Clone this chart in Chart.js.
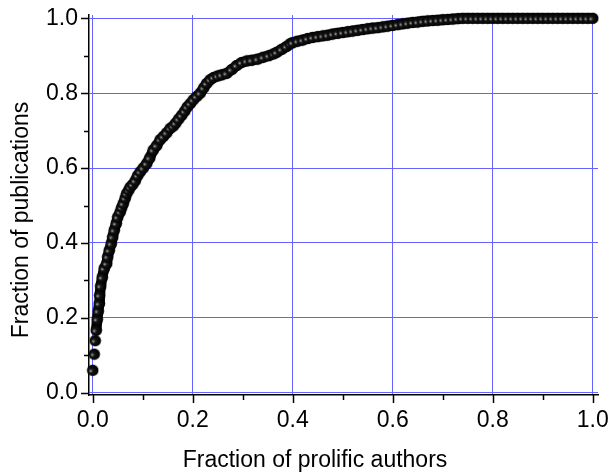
<!DOCTYPE html>
<html>
<head>
<meta charset="utf-8">
<script src="https://cdn.jsdelivr.net/npm/chart.js@4.4.0/dist/chart.umd.min.js"></script>
<style>
    body { margin: 0; background: #fff; }
    #wrap { width: 611px; height: 472px; }
</style>
</head>
<body>
<div id="wrap"><canvas id="cdfChart" width="611" height="472"></canvas></div>
<script>
// fraction of prolific authors (x) and cumulative fraction of publications (y)
const authorFrac = [
    0.000, 0.003, 0.005, 0.007, 0.009, 0.011, 0.013, 0.014, 0.016, 0.019,
    0.023, 0.028, 0.030, 0.033, 0.037, 0.040, 0.043, 0.047, 0.050, 0.055,
    0.058, 0.061, 0.065, 0.068, 0.072, 0.075, 0.080, 0.085, 0.090, 0.095,
    0.101, 0.108, 0.114, 0.121, 0.128, 0.135, 0.141, 0.148, 0.155, 0.161,
    0.166, 0.172, 0.178, 0.184, 0.189, 0.195, 0.201, 0.208, 0.215, 0.222,
    0.228, 0.235, 0.242, 0.250, 0.258, 0.268, 0.278, 0.288, 0.298, 0.308,
    0.318, 0.330, 0.341, 0.352, 0.362, 0.368, 0.378, 0.388, 0.395,
    0.40, 0.41, 0.42, 0.43, 0.44, 0.45, 0.46, 0.47, 0.48, 0.49,
    0.50, 0.51, 0.52, 0.53, 0.54, 0.55, 0.56, 0.57, 0.58, 0.59,
    0.60, 0.61, 0.62, 0.63, 0.64, 0.65, 0.66, 0.67, 0.68, 0.69,
    0.70, 0.71, 0.72, 0.73, 0.74, 0.75, 0.76, 0.77, 0.78, 0.79,
    0.80, 0.81, 0.82, 0.83, 0.84, 0.85, 0.86, 0.87, 0.88, 0.89,
    0.90, 0.91, 0.92, 0.93, 0.94, 0.95, 0.96, 0.97, 0.98, 0.99, 1.00
];
const pubFrac = [
    0.060, 0.103, 0.139, 0.167, 0.196, 0.218, 0.238, 0.260, 0.285, 0.308,
    0.332, 0.345, 0.363, 0.380, 0.398, 0.416, 0.434, 0.452, 0.469, 0.483,
    0.495, 0.505, 0.520, 0.532, 0.541, 0.549, 0.556, 0.566, 0.580, 0.590,
    0.600, 0.612, 0.627, 0.648, 0.660, 0.676, 0.684, 0.694, 0.706, 0.712,
    0.720, 0.731, 0.741, 0.752, 0.763, 0.772, 0.782, 0.791, 0.800, 0.814,
    0.826, 0.836, 0.842, 0.846, 0.849, 0.853, 0.863, 0.874, 0.882, 0.886,
    0.888, 0.891, 0.896, 0.900, 0.905, 0.909, 0.917, 0.925, 0.932,
    0.935, 0.939, 0.942, 0.946, 0.949, 0.951, 0.953, 0.955, 0.958, 0.960,
    0.962, 0.964, 0.966, 0.968, 0.970, 0.972, 0.974, 0.975, 0.977, 0.979,
    0.981, 0.983, 0.985, 0.987, 0.989, 0.990, 0.992, 0.993, 0.994, 0.995,
    0.996, 0.997, 0.998, 0.999, 1.000, 1.000, 1.000, 1.000, 1.000, 1.000,
    1.000, 1.000, 1.000, 1.000, 1.000, 1.000, 1.000, 1.000, 1.000, 1.000,
    1.000, 1.000, 1.000, 1.000, 1.000, 1.000, 1.000, 1.000, 1.000, 1.000, 1.000
];
const majorTicks = [0.0, 0.2, 0.4, 0.6, 0.8, 1.0];
const minorTicks = [0.1, 0.3, 0.5, 0.7, 0.9];

const xTitle = 'Fraction of prolific authors';
const yTitle = 'Fraction of publications';

const FONT = "'Liberation Sans', Arial, sans-serif";
const GRID_BLUE = '#6464ff';

const points = authorFrac.map((x, i) => ({ x: x, y: pubFrac[i] }));

// shaded ball used as marker (mostly black, small grey highlight lower-left)
function makeBall() {
    const c = document.createElement('canvas');
    c.width = 13; c.height = 13;
    const g = c.getContext('2d');
    const grad = g.createRadialGradient(4.2, 7.3, 0.2, 5.8, 6.6, 6);
    grad.addColorStop(0, '#b0b0b0');
    grad.addColorStop(0.14, '#5a5a5a');
    grad.addColorStop(0.34, '#141414');
    grad.addColorStop(1, '#000');
    g.fillStyle = grad;
    g.beginPath();
    g.arc(6.5, 6.5, 5.8, 0, Math.PI * 2);
    g.fill();
    return c;
}

// outward major/minor ticks like the original plot
const tickMarks = {
    id: 'tickMarks',
    afterDraw(chart) {
        const ctx = chart.ctx;
        const area = chart.chartArea;
        const sx = chart.scales.x, sy = chart.scales.y;
        ctx.save();
        ctx.strokeStyle = '#000';
        ctx.lineWidth = 1.5;
        const all = majorTicks.map(v => [v, 8]).concat(minorTicks.map(v => [v, 5]));
        all.forEach(([v, len]) => {
            const px = Math.round(sx.getPixelForValue(v)) + 0.5;
            ctx.beginPath();
            ctx.moveTo(px, area.bottom);
            ctx.lineTo(px, area.bottom + len);
            ctx.stroke();
            const py = Math.round(sy.getPixelForValue(v)) + 0.5;
            ctx.beginPath();
            ctx.moveTo(area.left - len, py);
            ctx.lineTo(area.left, py);
            ctx.stroke();
        });
        ctx.restore();
    }
};

// axis titles placed where the original has them
const axisTitles = {
    id: 'axisTitles',
    afterDraw(chart) {
        const ctx = chart.ctx;
        ctx.save();
        ctx.fillStyle = '#000';
        ctx.font = '23px ' + FONT;
        ctx.textAlign = 'center';
        ctx.textBaseline = 'alphabetic';
        ctx.fillText(xTitle, 315, 467);
        ctx.translate(28, 220);
        ctx.rotate(-Math.PI / 2);
        ctx.fillText(yTitle, 0, 0);
        ctx.restore();
    }
};

const ball = makeBall();

new Chart(document.getElementById('cdfChart').getContext('2d'), {
    type: 'scatter',
    data: {
        datasets: [
            {
                label: 'markers',
                data: points,
                pointStyle: ball,
                pointRadius: 6,
                pointHoverRadius: 6,
                showLine: false,
                clip: false
            },
            {
                label: 'band',
                data: points.slice(3),
                showLine: true,
                borderColor: '#030303',
                borderWidth: 10.5,
                borderCapStyle: 'round',
                borderJoinStyle: 'round',
                pointRadius: 0,
                tension: 0,
                clip: false
            }
        ]
    },
    options: {
        responsive: false,
        animation: false,
        layout: { padding: { top: 15, right: 13, left: 0, bottom: 0 } },
        plugins: {
            legend: { display: false },
            tooltip: { enabled: false }
        },
        scales: {
            x: {
                type: 'linear',
                min: -0.0074,
                max: 1.0106,
                afterBuildTicks: (s) => { s.ticks = majorTicks.map(v => ({ value: v })); },
                afterFit: (s) => { s.height = 77; s.paddingLeft = 0; s.paddingRight = 0; },
                grid: { color: GRID_BLUE, lineWidth: 1, drawTicks: false },
                border: { display: true, color: '#000', width: 1.5 },
                ticks: {
                    padding: 12,
                    color: '#000',
                    font: { family: FONT, size: 23 },
                    maxRotation: 0,
                    callback: (v) => Number(v).toFixed(1)
                }
            },
            y: {
                type: 'linear',
                min: -0.0061,
                max: 1.0088,
                afterBuildTicks: (s) => { s.ticks = majorTicks.map(v => ({ value: v })); },
                afterFit: (s) => { s.width = 89; s.paddingTop = 0; s.paddingBottom = 0; },
                grid: { color: GRID_BLUE, lineWidth: 1, drawTicks: false },
                border: { display: true, color: '#000', width: 1.5 },
                ticks: {
                    padding: 11,
                    color: '#000',
                    font: { family: FONT, size: 23 },
                    callback: (v) => Number(v).toFixed(1)
                }
            }
        }
    },
    plugins: [tickMarks, axisTitles]
});
</script>
</body>
</html>
